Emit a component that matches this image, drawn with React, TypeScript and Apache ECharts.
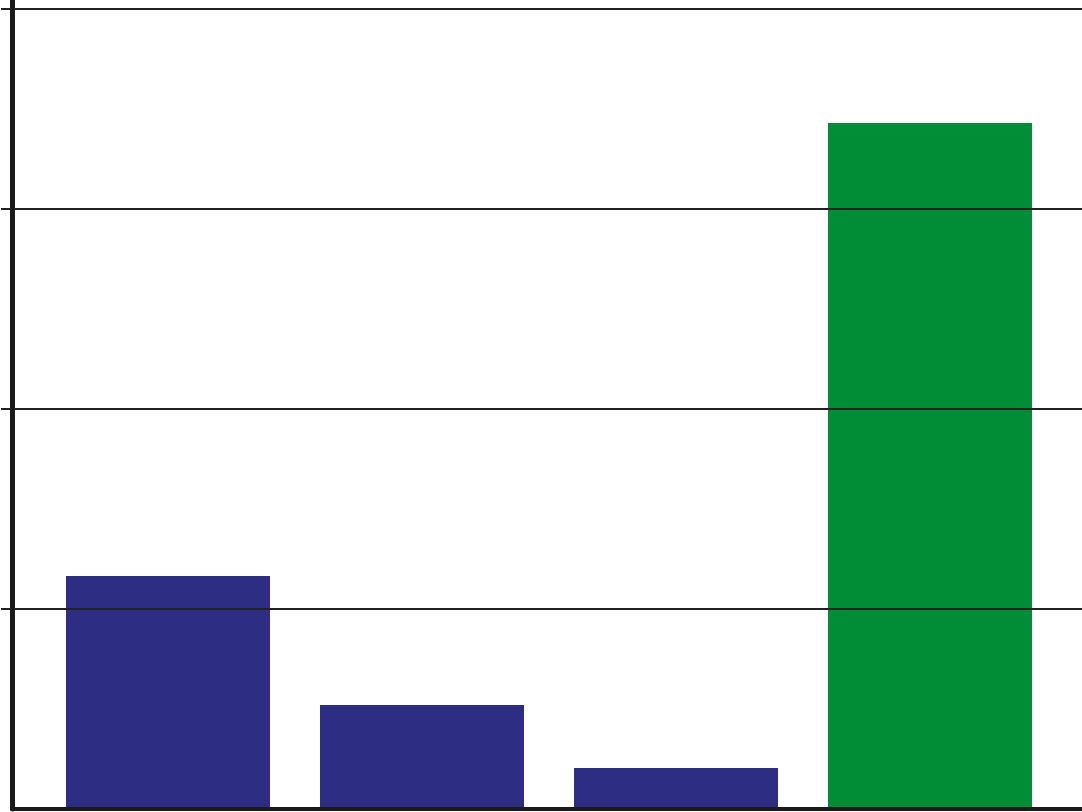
import React, { useEffect, useRef } from "react";
import * as echarts from "echarts";

const categories = [0, 1, 2, 3];
const values = [1.165, 0.52, 0.205, 3.43];
const barColors = ["#2d2e83", "#2d2e83", "#2d2e83", "#008d36"];
const gridValues = [1, 2, 3, 4];

export default function App() {
  const ref = useRef<HTMLDivElement>(null);
  useEffect(() => {
    document.body.style.margin = "0";
    const chart = echarts.init(ref.current!, null, { renderer: "svg" });
    chart.setOption({
      animation: false,
      backgroundColor: "#ffffff",
      grid: { left: 12, right: 0, top: 0, bottom: 3, containLabel: false },
      xAxis: {
        type: "value",
        min: -0.6142,
        max: 3.5984,
        z: 10,
        axisLine: { show: true, onZero: false, lineStyle: { color: "#1a1a1a", width: 4 } },
        axisTick: { show: false },
        axisLabel: { show: false },
        splitLine: { show: false },
      },
      yAxis: {
        type: "value",
        min: 0,
        max: 4.045,
        interval: 1,
        z: 10,
        axisLine: { show: true, onZero: false, lineStyle: { color: "#1a1a1a", width: 5 } },
        axisTick: {
          show: true,
          length: 11,
          customValues: gridValues,
          lineStyle: { color: "#222222", width: 2 },
        },
        axisLabel: { show: false },
        splitLine: { show: false },
      },
      series: [
        {
          type: "bar",
          barWidth: 204,
          data: categories.map((c, i) => ({
            value: [c, values[i]],
            itemStyle: { color: barColors[i] },
          })),
          markLine: {
            silent: true,
            symbol: ["none", "none"],
            label: { show: false },
            lineStyle: { color: "#222222", width: 2, type: "solid" },
            z: 5,
            data: gridValues.map((v) => ({ yAxis: v })),
          },
        },
      ],
    });
    return () => chart.dispose();
  }, []);
  return <div ref={ref} style={{ width: 1082, height: 812 }} />;
}
